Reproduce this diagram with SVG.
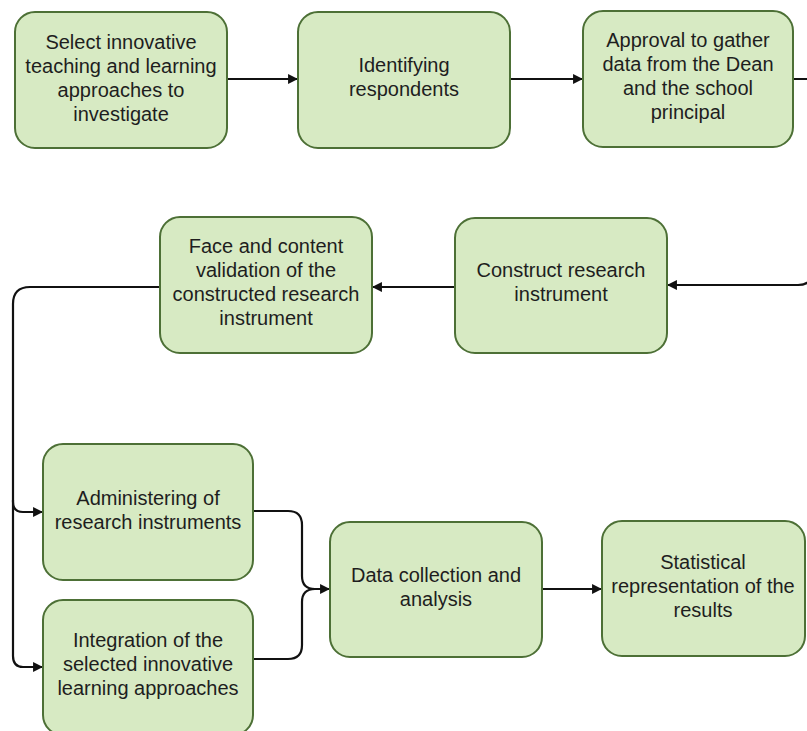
<svg xmlns="http://www.w3.org/2000/svg" width="807" height="731" viewBox="0 0 807 731">
<style>
.box{fill:#d7eac3;stroke:#4d7036;stroke-width:2}
.t{font-family:"Liberation Sans",Arial,sans-serif;font-size:20px;fill:#1e1e1e;text-anchor:middle}
.c{fill:none;stroke:#111;stroke-width:2.2}
</style>
<defs>
<marker id="ah" viewBox="0 0 10 10" refX="9" refY="5" markerWidth="4.5" markerHeight="4.5" orient="auto">
<path d="M0,0 L10,5 L0,10 z" fill="#111"/>
</marker>
</defs>
<rect width="807" height="731" fill="#fff"/>
<g id="connectors">
<path class="c" d="M227,79 L297,79" marker-end="url(#ah)"/>
<path class="c" d="M511,79 L582,79" marker-end="url(#ah)"/>
<path class="c" d="M793,79 L812,79 M812,275 Q810,285 798,285 L668,285" marker-end="url(#ah)"/>
<path class="c" d="M455,287 L373,287" marker-end="url(#ah)"/>
<path class="c" d="M160,287 L30,287 Q13,287 13,304 L13,502 Q13,512 23,512 L42,512" marker-end="url(#ah)"/>
<path class="c" d="M13,500 L13,656 Q13,667 23,667 L42,667" marker-end="url(#ah)"/>
<path class="c" d="M253,511 L288,511 Q302,511 302,525 L302,576 Q302,589 315,589 L329,589" marker-end="url(#ah)"/>
<path class="c" d="M253,659 L288,659 Q302,659 302,645 L302,602 Q302,589 315,589"/>
<path class="c" d="M542,589 L601,589" marker-end="url(#ah)"/>
</g>
<g id="n1"><rect class="box" x="15" y="12" width="212" height="136" rx="20"/>
<text class="t" x="121" y="49">Select innovative</text><text class="t" x="121" y="73">teaching and learning</text><text class="t" x="121" y="97">approaches to</text><text class="t" x="121" y="121">investigate</text></g>
<g id="n2"><rect class="box" x="298" y="12" width="212" height="136" rx="20"/>
<text class="t" x="404" y="72">Identifying</text><text class="t" x="404" y="96">respondents</text></g>
<g id="n3"><rect class="box" x="583" y="11" width="210" height="136" rx="20"/>
<text class="t" x="688" y="47">Approval to gather</text><text class="t" x="688" y="71">data from the Dean</text><text class="t" x="688" y="95">and the school</text><text class="t" x="688" y="119">principal</text></g>
<g id="n4"><rect class="box" x="455" y="218" width="212" height="135" rx="20"/>
<text class="t" x="561" y="277">Construct research</text><text class="t" x="561" y="301">instrument</text></g>
<g id="n5"><rect class="box" x="160" y="217" width="212" height="136" rx="20"/>
<text class="t" x="266" y="253">Face and content</text><text class="t" x="266" y="277">validation of the</text><text class="t" x="266" y="301">constructed research</text><text class="t" x="266" y="325">instrument</text></g>
<g id="n6"><rect class="box" x="43" y="444" width="210" height="136" rx="20"/>
<text class="t" x="148" y="505">Administering of</text><text class="t" x="148" y="529">research instruments</text></g>
<g id="n7"><rect class="box" x="43" y="600" width="210" height="135" rx="20"/>
<text class="t" x="148" y="647">Integration of the</text><text class="t" x="148" y="671">selected innovative</text><text class="t" x="148" y="695">learning approaches</text></g>
<g id="n8"><rect class="box" x="330" y="522" width="212" height="135" rx="20"/>
<text class="t" x="436" y="582">Data collection and</text><text class="t" x="436" y="606">analysis</text></g>
<g id="n9"><rect class="box" x="602" y="521" width="203" height="135" rx="20"/>
<text class="t" x="703" y="569">Statistical</text><text class="t" x="703" y="593">representation of the</text><text class="t" x="703" y="617">results</text></g>
</svg>
